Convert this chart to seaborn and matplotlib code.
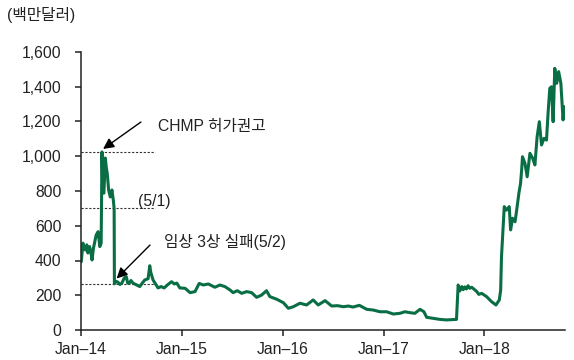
import matplotlib
matplotlib.use("Agg")
import matplotlib.pyplot as plt
import seaborn as sns
import pandas as pd

# ---- data ----
dates = [
    "2014-01-02", "2014-01-08", "2014-01-12", "2014-01-17", "2014-01-22", "2014-01-26", "2014-02-01",
    "2014-02-05", "2014-02-10", "2014-02-15", "2014-02-20", "2014-02-25", "2014-03-04", "2014-03-10",
    "2014-03-15", "2014-03-18", "2014-03-21", "2014-03-25", "2014-03-30", "2014-04-03", "2014-04-06",
    "2014-04-11", "2014-04-17", "2014-04-23", "2014-04-28", "2014-05-01", "2014-05-02",
    "2014-05-08", "2014-05-15", "2014-05-22", "2014-05-29", "2014-06-07", "2014-06-14", "2014-06-19",
    "2014-06-24", "2014-07-01", "2014-07-08", "2014-07-18", "2014-08-02", "2014-08-11", "2014-08-20",
    "2014-09-01", "2014-09-07", "2014-09-11", "2014-09-19", "2014-10-07", "2014-10-18", "2014-10-29",
    "2014-11-12", "2014-11-25", "2014-12-05", "2014-12-14", "2014-12-25",
    "2015-01-13", "2015-01-31", "2015-02-18", "2015-03-05", "2015-03-20", "2015-04-07", "2015-05-01",
    "2015-05-19", "2015-06-06", "2015-06-25", "2015-07-06", "2015-07-21", "2015-08-06", "2015-08-24",
    "2015-09-11", "2015-09-29", "2015-10-17", "2015-11-04", "2015-11-16", "2015-12-11",
    "2016-01-04", "2016-01-22", "2016-02-09", "2016-03-04", "2016-03-28", "2016-04-21", "2016-05-09",
    "2016-06-03", "2016-06-27", "2016-07-18", "2016-08-08", "2016-08-26", "2016-09-12", "2016-10-05",
    "2016-11-01", "2016-11-24", "2016-12-19",
    "2017-01-12", "2017-02-05", "2017-03-01", "2017-03-19", "2017-04-06", "2017-04-24", "2017-05-13",
    "2017-05-27", "2017-06-06", "2017-06-30", "2017-07-24", "2017-08-17", "2017-09-22", "2017-09-28",
    "2017-10-04", "2017-10-11", "2017-10-16", "2017-10-22", "2017-10-28", "2017-11-03", "2017-11-09",
    "2017-11-16", "2017-11-25", "2017-12-04", "2017-12-12", "2017-12-22",
    "2018-01-09", "2018-01-27", "2018-02-12", "2018-02-24", "2018-03-01", "2018-03-04", "2018-03-10",
    "2018-03-14", "2018-03-22", "2018-04-01", "2018-04-06", "2018-04-13", "2018-04-22", "2018-04-28",
    "2018-05-06", "2018-05-12", "2018-05-16", "2018-05-19", "2018-05-28", "2018-06-05", "2018-06-15",
    "2018-06-25", "2018-07-03", "2018-07-11", "2018-07-19", "2018-07-27", "2018-08-05", "2018-08-14",
    "2018-08-20", "2018-08-26", "2018-09-01", "2018-09-07", "2018-09-13", "2018-09-20", "2018-09-27",
    "2018-10-05", "2018-10-13", "2018-10-17",
]
values = [
    393, 500, 470, 460, 490, 443, 480,
    455, 403, 470, 508, 547, 566, 480,
    500, 1025, 790, 788, 990, 930, 903,
    806, 766, 806, 748, 700, 266,
    280, 275, 262, 270, 300, 307, 270,
    268, 285, 270, 262, 250, 270, 288,
    295, 370, 330, 288, 242, 250, 242,
    262, 278, 265, 270, 242,
    240, 215, 221, 268, 259, 265, 246,
    259, 250, 230, 215, 226, 211, 221,
    215, 188, 201, 226, 192, 177,
    157, 125, 134, 154, 144, 173, 144,
    169, 138, 140, 134, 138, 132, 142,
    119, 115, 105,
    105, 92, 96, 105, 100, 96, 119,
    105, 73, 67, 61, 58, 61, 259,
    225, 250, 232, 248, 236, 255, 240,
    246, 234, 222, 205, 211,
    192, 163, 144, 173, 230, 422, 595,
    710, 690, 710, 576, 643, 623, 690,
    787, 844, 921, 997, 959, 882, 1017,
    988, 950, 1112, 1199, 1065, 1103, 1093,
    1256, 1391, 1400, 1199, 1506, 1420, 1487,
    1420, 1209, 1285,
]
tick_dates = ["2014-01-01", "2015-01-01", "2016-01-01", "2017-01-01", "2018-01-01"]
tick_labels = ["Jan\u201314", "Jan\u201315", "Jan\u201316", "Jan\u201317", "Jan\u201318"]
y_ticks = [0, 200, 400, 600, 800, 1000, 1200, 1400, 1600]
chmp_value = 1025
may1_value = 700
may2_value = 266

df = pd.DataFrame({"date": pd.to_datetime(dates), "value": values})

# ---- style ----
sns.set_theme(style="ticks")
plt.rcParams["font.family"] = ["Liberation Sans", "Noto Sans CJK KR"]
plt.rcParams["axes.unicode_minus"] = False

FS = 11.3
TXT = "#222222"

fig = plt.figure(figsize=(5.74, 3.60), dpi=100)
ax = fig.add_axes([81 / 574, 30 / 360, (565 - 81) / 574, (330 - 52) / 360])

sns.lineplot(data=df, x="date", y="value", ax=ax, color="#0a6e45", linewidth=2.2)

x0 = pd.Timestamp("2014-01-01")
x1 = pd.Timestamp("2018-10-20")
ax.set_xlim(x0, x1)
ax.set_ylim(0, 1600)

ax.set_xticks(pd.to_datetime(tick_dates))
ax.set_xticklabels(tick_labels)
ax.set_yticks(y_ticks)
ax.set_yticklabels([f"{v:,}" for v in y_ticks])
ax.set_xlabel("")
ax.set_ylabel("")

for s in ["top", "right"]:
    ax.spines[s].set_visible(False)
for s in ["left", "bottom"]:
    ax.spines[s].set_color(TXT)
    ax.spines[s].set_linewidth(1.1)

ax.tick_params(axis="both", direction="out", length=4, width=1.1, color=TXT,
               labelsize=FS, labelcolor=TXT)
ax.tick_params(axis="y", pad=10)
ax.tick_params(axis="x", pad=5)

# reference dotted lines
line_end = pd.Timestamp("2014-09-26")
for v in [chmp_value, may1_value, may2_value]:
    ax.hlines(v, x0, line_end, colors="#333333", linestyles=(0, (2, 1.5)), linewidth=0.8, zorder=1)

# annotations
arrow = dict(arrowstyle="-|>", color="black", lw=1.0, mutation_scale=16, shrinkA=0, shrinkB=0)
ax.annotate("", xy=(pd.Timestamp("2014-03-22"), 1042), xytext=(pd.Timestamp("2014-08-06"), 1197),
            arrowprops=arrow)
ax.annotate("", xy=(pd.Timestamp("2014-05-10"), 296), xytext=(pd.Timestamp("2014-09-08"), 489),
            arrowprops=arrow)
ax.text(pd.Timestamp("2014-10-07"), 1174, "CHMP 허가권고", fontsize=FS, color=TXT,
        ha="left", va="center")
ax.text(pd.Timestamp("2014-07-26"), 742, "(5/1)", fontsize=FS, color=TXT,
        ha="left", va="center")
ax.text(pd.Timestamp("2014-10-28"), 506, "임상 3상 실패(5/2)", fontsize=FS, color=TXT,
        ha="left", va="center")

fig.text(7 / 574, 1 - 15 / 360, "(백만달러)", fontsize=FS, color=TXT, ha="left", va="center")

fig.savefig("out.png", dpi=100)
